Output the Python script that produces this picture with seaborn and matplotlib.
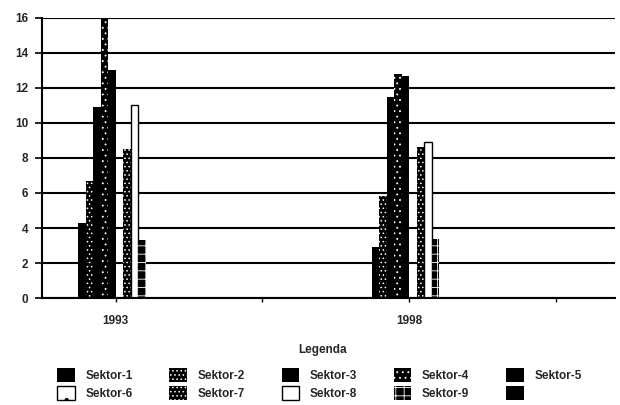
import matplotlib
matplotlib.use("Agg")
import matplotlib.pyplot as plt
import seaborn as sns
import pandas as pd

# Category slots on the x axis (two of them carry no data)
years = ["1993", "1995", "1998", "2000"]
year_labels = ["1993", "", "1998", ""]
data_years = ["1993", "1998"]

sectors = ["Sektor-1", "Sektor-2", "Sektor-3", "Sektor-4", "Sektor-5",
           "Sektor-6", "Sektor-7", "Sektor-8", "Sektor-9", "Sektor-10"]
legend_labels = ["Sektor-1", "Sektor-2", "Sektor-3", "Sektor-4", "Sektor-5",
                 "Sektor-6", "Sektor-7", "Sektor-8", "Sektor-9", ""]

values_1993 = [4.3, 6.7, 10.9, 16.0, 13.0, 0.0, 8.5, 11.0, 3.3, 0.0]
values_1998 = [2.9, 5.8, 11.5, 12.8, 12.7, 0.0, 8.6, 8.9, 3.4, 0.0]

y_ticks = [0, 2, 4, 6, 8, 10, 12, 14, 16]

# Fill / hatch style per sector
fills = ["black", "black", "black", "black", "black",
         "white", "black", "white", "black", "black"]
hatches = [None, "....", None, "...", None, ".", "....", None, "++", None]
edges = ["black", "white", "black", "white", "black",
         "black", "white", "black", "white", "black"]

rows = []
for yr, vals in zip(data_years, [values_1993, values_1998]):
    for s, v in zip(sectors, vals):
        rows.append({"year": yr, "sektor": s, "value": v})
df = pd.DataFrame(rows)

sns.set_style("white")
plt.rcParams["font.family"] = ["Liberation Sans", "DejaVu Sans"]
plt.rcParams["font.weight"] = "bold"
plt.rcParams["hatch.linewidth"] = 0.6

fig = plt.figure(figsize=(6.2, 4.05), dpi=100)
ax = fig.add_axes([0.068, 0.264, 0.924, 0.692])

sns.barplot(data=df, x="year", y="value", hue="sektor", order=years,
            hue_order=sectors, palette=dict(zip(sectors, fills)),
            width=0.51, gap=0, saturation=1, legend=False, ax=ax, errorbar=None)

for cont, fc, h, ec in zip(ax.containers, fills, hatches, edges):
    for p in cont.patches:
        p.set_facecolor(fc)
        p.set_edgecolor(ec)
        p.set_hatch(h)
        p.set_linewidth(1.0 if fc == "white" else 0)

ax.set_ylim(0, 16)
ax.set_xlim(-0.5, 3.4)
ax.set_yticks(y_ticks)
ax.set_yticklabels([str(t) for t in y_ticks], fontsize=8.5, fontweight="bold")
ax.set_xticks(range(len(years)))
ax.set_xticklabels(year_labels, fontsize=8.5, fontweight="bold")
ax.set_xlabel("")
ax.set_ylabel("")
ax.tick_params(axis="y", left=True, direction="out", length=5, width=1.2,
               color="black", pad=5)
ax.tick_params(axis="x", bottom=True, direction="out", length=3, width=1.0,
               color="black", pad=9)

ax.yaxis.grid(True, color="black", linewidth=1.5)
ax.set_axisbelow(True)
for side in ["top", "right"]:
    ax.spines[side].set_visible(False)
for side in ["left", "bottom"]:
    ax.spines[side].set_color("black")
    ax.spines[side].set_linewidth(1.5)

# Legend title and entries, laid out row by row in five columns
fig.text(0.52, 1 - 350 / 405, "Legenda", ha="center", va="center",
         fontsize=8.5, fontweight="bold")
ncol = 5
order = []
for c in range(ncol):
    for r in range(2):
        order.append(r * ncol + c)
handles = [ax.containers[i] for i in order]
labels = [legend_labels[i] for i in order]
fig.legend(handles, labels, loc="center", bbox_to_anchor=(0.515, 1 - 384 / 405),
           ncol=ncol, frameon=False,
           prop={"size": 8.5, "weight": "bold"},
           handlelength=1.5, handleheight=1.5, handletextpad=0.9,
           columnspacing=3.1, labelspacing=0.3, borderpad=0)

fig.savefig("out.png", dpi=100)
